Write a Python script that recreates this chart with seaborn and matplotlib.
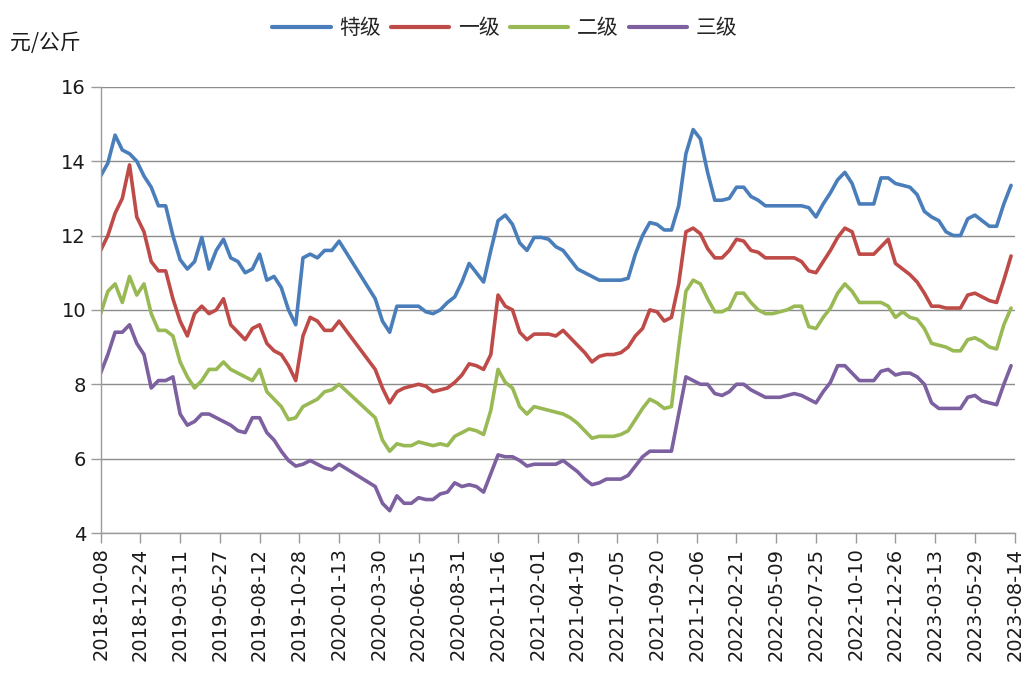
import numpy as np
import pandas as pd
import matplotlib
matplotlib.use("Agg")
import matplotlib.pyplot as plt
import seaborn as sns

sns.set_style("white")
plt.rcParams["font.family"] = ["Noto Sans CJK SC", "DejaVu Sans"]

nan = np.nan

# biweekly readings from 2018-10-08 (NaN = no quotes during spring 2020)
dates = pd.date_range("2018-10-08", periods=127, freq="14D")
tick_dates = pd.date_range("2018-10-08", periods=24, freq="77D")
grades = ["特级", "一级", "二级", "三级"]
colors = ["#4A7EBB", "#BE4B48", "#98B954", "#7D60A0"]

special = [13.6, 13.95, 14.7, 14.3, 14.2, 14.0, 13.6, 13.3, 12.8, 12.8, 12.0, 11.35, 11.1, 11.3, 11.95, 11.1,
           11.6, 11.9, 11.4, 11.3, 11.0, 11.1, 11.5, 10.8, 10.9, 10.6, 10.0, 9.6, 11.4, 11.5, 11.4, 11.6,
           11.6, 11.85, nan, nan, nan, nan, 10.3, 9.7, 9.4, 10.1, 10.1, 10.1, 10.1, 9.95, 9.9, 10.0,
           10.2, 10.35, 10.75, 11.25, 11.0, 10.75, 11.6, 12.4, 12.55, 12.3, 11.8, 11.6, 11.95, 11.95, 11.9, 11.7,
           11.6, 11.35, 11.1, 11.0, 10.9, 10.8, 10.8, 10.8, 10.8, 10.85, 11.5, 12.0, 12.35, 12.3, 12.15, 12.15,
           12.8, 14.2, 14.85, 14.6, 13.7, 12.95, 12.95, 13.0, 13.3, 13.3, 13.05, 12.95, 12.8, 12.8, 12.8, 12.8,
           12.8, 12.8, 12.75, 12.5, 12.85, 13.15, 13.5, 13.7, 13.4, 12.85, 12.85, 12.85, 13.55, 13.55, 13.4,
           13.35, 13.3, 13.1, 12.65, 12.5, 12.4, 12.1, 12.0, 12.0, 12.45, 12.55, 12.4, 12.25, 12.25, 12.85, 13.35]

grade1 = [11.6, 12.0, 12.6, 13.0, 13.9, 12.5, 12.1, 11.3, 11.05, 11.05, 10.3, 9.7, 9.3, 9.9, 10.1, 9.9,
          10.0, 10.3, 9.6, 9.4, 9.2, 9.5, 9.6, 9.1, 8.9, 8.8, 8.5, 8.1, 9.3, 9.8, 9.7, 9.45,
          9.45, 9.7, nan, nan, nan, nan, 8.4, 7.9, 7.5, 7.8, 7.9, 7.95, 8.0, 7.95, 7.8, 7.85,
          7.9, 8.05, 8.25, 8.55, 8.5, 8.4, 8.8, 10.4, 10.1, 10.0, 9.4, 9.2, 9.35, 9.35, 9.35, 9.3,
          9.45, 9.25, 9.05, 8.85, 8.6, 8.75, 8.8, 8.8, 8.85, 9.0, 9.3, 9.5, 10.0, 9.95, 9.7, 9.8,
          10.7, 12.1, 12.2, 12.05, 11.65, 11.4, 11.4, 11.6, 11.9, 11.85, 11.6, 11.55, 11.4, 11.4, 11.4, 11.4,
          11.4, 11.3, 11.05, 11.0, 11.3, 11.6, 11.95, 12.2, 12.1, 11.5, 11.5, 11.5, 11.7, 11.9, 11.25,
          11.1, 10.95, 10.75, 10.45, 10.1, 10.1, 10.05, 10.05, 10.05, 10.4, 10.45, 10.35, 10.25, 10.2, 10.8, 11.45]

grade2 = [9.9, 10.5, 10.7, 10.2, 10.9, 10.4, 10.7, 9.9, 9.45, 9.45, 9.3, 8.6, 8.2, 7.9, 8.1, 8.4,
          8.4, 8.6, 8.4, 8.3, 8.2, 8.1, 8.4, 7.8, 7.6, 7.4, 7.05, 7.1, 7.4, 7.5, 7.6, 7.8,
          7.85, 8.0, nan, nan, nan, nan, 7.1, 6.5, 6.2, 6.4, 6.35, 6.35, 6.45, 6.4, 6.35, 6.4,
          6.35, 6.6, 6.7, 6.8, 6.75, 6.65, 7.3, 8.4, 8.05, 7.9, 7.4, 7.2, 7.4, 7.35, 7.3, 7.25,
          7.2, 7.1, 6.95, 6.75, 6.55, 6.6, 6.6, 6.6, 6.65, 6.75, 7.05, 7.35, 7.6, 7.5, 7.35, 7.4,
          9.0, 10.5, 10.8, 10.7, 10.3, 9.95, 9.95, 10.05, 10.45, 10.45, 10.2, 10.0, 9.9, 9.9, 9.95, 10.0,
          10.1, 10.1, 9.55, 9.5, 9.8, 10.05, 10.45, 10.7, 10.5, 10.2, 10.2, 10.2, 10.2, 10.1, 9.8,
          9.95, 9.8, 9.75, 9.5, 9.1, 9.05, 9.0, 8.9, 8.9, 9.2, 9.25, 9.15, 9.0, 8.95, 9.6, 10.05]

grade3 = [8.3, 8.8, 9.4, 9.4, 9.6, 9.1, 8.8, 7.9, 8.1, 8.1, 8.2, 7.2, 6.9, 7.0, 7.2, 7.2,
          7.1, 7.0, 6.9, 6.75, 6.7, 7.1, 7.1, 6.7, 6.5, 6.2, 5.95, 5.8, 5.85, 5.95, 5.85, 5.75,
          5.7, 5.85, nan, nan, nan, nan, 5.25, 4.8, 4.6, 5.0, 4.8, 4.8, 4.95, 4.9, 4.9, 5.05,
          5.1, 5.35, 5.25, 5.3, 5.25, 5.1, 5.6, 6.1, 6.05, 6.05, 5.95, 5.8, 5.85, 5.85, 5.85, 5.85,
          5.95, 5.8, 5.65, 5.45, 5.3, 5.35, 5.45, 5.45, 5.45, 5.55, 5.8, 6.05, 6.2, 6.2, 6.2, 6.2,
          7.2, 8.2, 8.1, 8.0, 8.0, 7.75, 7.7, 7.8, 8.0, 8.0, 7.85, 7.75, 7.65, 7.65, 7.65, 7.7,
          7.75, 7.7, 7.6, 7.5, 7.8, 8.05, 8.5, 8.5, 8.3, 8.1, 8.1, 8.1, 8.35, 8.4, 8.25,
          8.3, 8.3, 8.2, 8.0, 7.5, 7.35, 7.35, 7.35, 7.35, 7.65, 7.7, 7.55, 7.5, 7.45, 8.0, 8.5]

df = pd.DataFrame({"日期": dates, "特级": special, "一级": grade1, "二级": grade2, "三级": grade3})
long = df.melt(id_vars="日期", var_name="等级", value_name="价格").dropna()

fig = plt.figure(figsize=(10.27, 6.73), dpi=100)
ax = fig.add_axes([0.098, 0.208, 0.890, 0.663])
sns.lineplot(data=long, x="日期", y="价格", hue="等级", hue_order=grades,
             palette=colors, linewidth=2.6, ax=ax)

ax.set_xlim(pd.Timestamp("2018-10-08"), pd.Timestamp("2023-08-14"))
ax.set_ylim(4, 16)
ax.set_yticks(range(4, 17, 2))
ax.set_xticks(tick_dates)
ax.set_xticklabels([d.strftime("%Y-%m-%d") for d in tick_dates], rotation=90)
ax.tick_params(axis="both", labelsize=14, labelcolor="#1a1a1a", color="#9a9a9a",
               length=7, width=1, direction="out", bottom=True, left=True)
for lab in ax.get_xticklabels() + ax.get_yticklabels():
    lab.set_family("DejaVu Sans")
ax.yaxis.grid(True, color="#8c8c8c", linewidth=1)
ax.xaxis.grid(False)
for side in ["top", "right"]:
    ax.spines[side].set_visible(False)
for side in ["left", "bottom"]:
    ax.spines[side].set_color("#9a9a9a")
    ax.spines[side].set_linewidth(1)
ax.set_xlabel("")
ax.set_ylabel("")

sns.move_legend(ax, "center", bbox_to_anchor=(0.442, 1.132), ncol=4, frameon=False,
                title=None, fontsize=15, handlelength=2.8, handletextpad=0.4, columnspacing=0.5)
for h in ax.get_legend().legend_handles:
    h.set_linewidth(3)

fig.text(0.01, 1 - 43 / 673, "元/公斤", fontsize=15, va="center", ha="left", color="#1a1a1a")

fig.savefig("out.png", dpi=100)
